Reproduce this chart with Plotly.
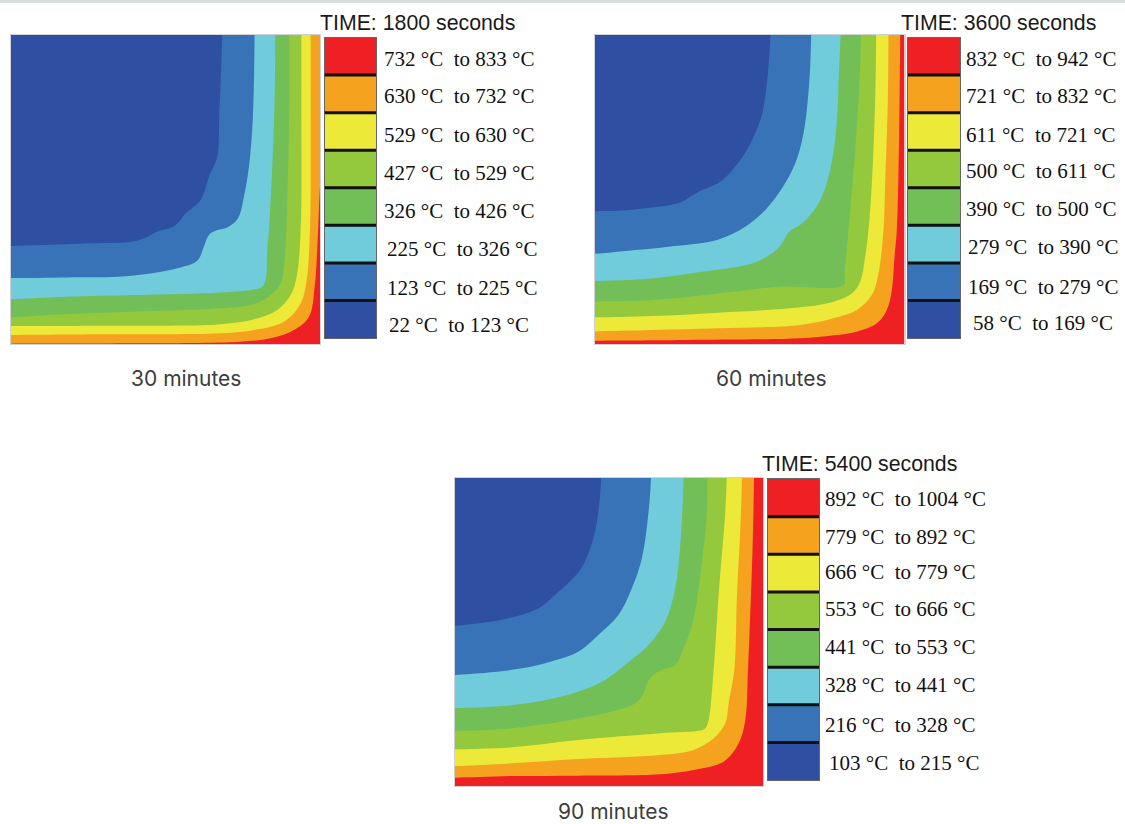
import plotly.graph_objects as go

W, H = 1125, 824
COLORS = ["#EE2024", "#F5A31E", "#ECE938", "#94C83D", "#72BF58", "#70CCDB", "#3873B8", "#2E4FA2"]

# ---- data: isotherm boundaries, outermost (hot) to innermost (cold)
P1_RED_ORANGE = [(32,1031),(400,1030),(720,1025),(810,1015),(880,990),(925,950),(942,860),(950,740),(955,620),(960,500)]
P1_ORANGE_YELLOW = [(32,1005),(300,1003),(660,1000),(760,990),(850,965),(900,910),(918,840),(928,690),(930,400),(930,104)]
P1_YELLOW_LIME = [(32,978),(300,977),(660,973),(760,958),(830,930),(870,885),(888,830),(900,690),(902,300),(902,104)]
P1_LIME_GREEN = [(32,952),(200,942),(400,935),(660,925),(760,912),(810,885),(840,850),(850,800),(857,690),(866,300),(866,104)]
P1_GREEN_CYAN = [(32,897),(200,890),(400,885),(660,877),(760,868),(785,860),(795,840),(800,750),(805,690),(815,500),(822,300),(824,104)]
P1_CYAN_BLUE = [(32,834),(200,832),(350,830),(450,820),(540,802),(590,782),(610,740),(625,705),(650,690),(680,682),(712,655),(730,590),(745,500),(757,350),(762,104)]
P1_BLUE_NAVY = [(32,738),(120,735),(250,730),(410,722),(470,695),(525,675),(555,640),(600,600),(625,530),(650,470),(656,350),(665,104)]

P2_RED_ORANGE = [(28,1022),(300,1020),(645,1015),(745,1006),(815,995),(875,970),(905,930),(920,870),(928,770),(935,690),(942,400),(945,104)]
P2_ORANGE_YELLOW = [(28,994),(200,990),(400,985),(645,975),(745,955),(815,930),(860,885),(880,820),(895,690),(900,550),(908,300),(910,104)]
P2_YELLOW_LIME = [(28,952),(200,948),(400,938),(645,922),(745,905),(800,880),(825,845),(840,770),(850,690),(860,550),(870,300),(873,104)]
P2_LIME_GREEN = [(28,905),(200,900),(400,880),(580,860),(775,855),(778,820),(790,690),(810,450),(825,200),(827,104)]
P2_GREEN_CYAN = [(28,843),(200,835),(350,815),(500,790),(560,760),(590,730),(612,695),(650,670),(700,610),(730,530),(752,400),(762,200),(766,104)]
P2_CYAN_BLUE = [(28,761),(130,752),(250,740),(400,718),(480,680),(540,630),(590,565),(630,490),(655,400),(672,250),(678,104)]
P2_BLUE_NAVY = [(28,633),(120,630),(200,622),(285,607),(340,575),(405,545),(465,480),(505,410),(530,345),(545,250),(556,104)]

P3_RED_ORANGE = [(28,998),(200,993),(400,992),(645,988),(745,975),(835,950),(880,895),(900,825),(908,675),(915,500),(922,300),(926,100)]
P3_ORANGE_YELLOW = [(28,963),(200,955),(400,942),(645,930),(745,915),(805,880),(840,835),(850,775),(867,675),(875,450),(885,250),(890,100)]
P3_YELLOW_LIME = [(28,913),(200,907),(400,885),(645,865),(765,857),(780,850),(790,825),(805,675),(820,450),(840,200),(844,100)]
P3_LIME_GREEN = [(28,858),(200,850),(350,830),(500,800),(570,775),(595,745),(610,705),(640,680),(690,660),(715,610),(745,520),(770,350),(785,200),(787,100)]
P3_GREEN_CYAN = [(28,790),(150,785),(280,770),(400,740),(480,705),(540,660),(610,600),(660,530),(690,430),(705,300),(715,100)]
P3_CYAN_BLUE = [(28,690),(130,683),(220,672),(300,655),(400,620),(460,570),(520,510),(560,430),(590,340),(610,200),(617,100)]
P3_BLUE_NAVY = [(28,543),(100,535),(170,525),(280,490),(330,450),(405,375),(435,310),(455,230),(468,100)]

LABELS_1 = ["732 °C\u00a0 to 833 °C","630 °C\u00a0 to 732 °C","529 °C\u00a0 to 630 °C","427 °C\u00a0 to 529 °C",
            "326 °C\u00a0 to 426 °C","225 °C\u00a0 to 326 °C","123 °C\u00a0 to 225 °C","22 °C\u00a0 to 123 °C"]
LABELS_2 = ["832 °C\u00a0 to 942 °C","721 °C\u00a0 to 832 °C","611 °C\u00a0 to 721 °C","500 °C\u00a0 to 611 °C",
            "390 °C\u00a0 to 500 °C","279 °C\u00a0 to 390 °C","169 °C\u00a0 to 279 °C","58 °C\u00a0 to 169 °C"]
LABELS_3 = ["892 °C\u00a0 to 1004 °C","779 °C\u00a0 to 892 °C","666 °C\u00a0 to 779 °C","553 °C\u00a0 to 666 °C",
            "441 °C\u00a0 to 553 °C","328 °C\u00a0 to 441 °C","216 °C\u00a0 to 328 °C","103 °C\u00a0 to 215 °C"]
TITLES = ["TIME: 1800 seconds", "TIME: 3600 seconds", "TIME: 5400 seconds"]
CAPTIONS = ["30 minutes", "60 minutes", "90 minutes"]

# ---- layout (pixels)
panels = [
    dict(box=(11, 35, 320, 344), rx=(32, 958), ry=(1032, 104),
         curves=[P1_RED_ORANGE,P1_ORANGE_YELLOW,P1_YELLOW_LIME,P1_LIME_GREEN,P1_GREEN_CYAN,P1_CYAN_BLUE,P1_BLUE_NAVY],
         bar=(324.5, 37.5, 376, 338), labels=LABELS_1,
         lx=[384,384,384,384,384,387,387,389], ly=[59,96,135,173,211,249,288,325],
         title=(320, 23), cap=(186, 378)),
    dict(box=(594.5, 35, 904.5, 344), rx=(28, 958), ry=(1032, 104),
         curves=[P2_RED_ORANGE,P2_ORANGE_YELLOW,P2_YELLOW_LIME,P2_LIME_GREEN,P2_GREEN_CYAN,P2_CYAN_BLUE,P2_BLUE_NAVY],
         bar=(908, 37.5, 960, 338), labels=LABELS_2,
         lx=[966,966,966,966,966,968,968,973], ly=[59,96,135,171,209,247,287,323],
         title=(901, 23), cap=(771, 378)),
    dict(box=(454.5, 478, 763, 786), rx=(28, 953), ry=(1023, 100),
         curves=[P3_RED_ORANGE,P3_ORANGE_YELLOW,P3_YELLOW_LIME,P3_LIME_GREEN,P3_GREEN_CYAN,P3_CYAN_BLUE,P3_BLUE_NAVY],
         bar=(767.5, 479, 819, 780), labels=LABELS_3,
         lx=[825,825,825,825,825,825,825,829], ly=[499,537,572,609,647,685,725,763],
         title=(762, 464), cap=(613, 811)),
]

fig = go.Figure()
layout = dict(width=W, height=H, margin=dict(l=0, r=0, t=0, b=0), autosize=False,
              paper_bgcolor="white", plot_bgcolor="white", showlegend=False)
annotations, shapes = [], []
shapes.append(dict(type="rect", xref="paper", yref="paper", x0=0, x1=1, y0=1 - 3 / H, y1=1,
                   fillcolor="#D6DFDD", line_width=0, layer="above"))


def text(x, y, s, font, size, color, anchor="left"):
    annotations.append(dict(x=x / W, y=1 - y / H, xref="paper", yref="paper", text=s, showarrow=False,
                            xanchor=anchor, yanchor="middle", borderpad=0, borderwidth=0,
                            font=dict(family=font, size=size, color=color)))


def axis(a, b, rng, anchor, color, span):
    return dict(domain=[a / span, b / span], range=list(rng), anchor=anchor, visible=True,
                showticklabels=False, ticks="", showgrid=False, zeroline=False,
                showline=True, mirror=True, linecolor=color, linewidth=1, fixedrange=True)


for i, p in enumerate(panels):
    xa = 2 * i + 1
    x0, y0, x1, y1 = p["box"]
    xn, yn = f"x{xa}", f"y{xa}"
    layout[f"xaxis{xa}"] = axis(x0, x1, p["rx"], yn, "#D0D0D6", W)
    layout[f"yaxis{xa}"] = axis(H - y1, H - y0, p["ry"], xn, "#D0D0D6", H)
    # hot background, then each colder region stacked on top
    fig.add_trace(go.Scatter(x=[p["rx"][0], p["rx"][1], p["rx"][1], p["rx"][0]],
                             y=[p["ry"][0], p["ry"][0], p["ry"][1], p["ry"][1]],
                             mode="lines", fill="toself", fillcolor=COLORS[0], line=dict(width=0),
                             hoverinfo="skip", xaxis=xn, yaxis=yn))
    for c, curve in enumerate(p["curves"]):
        xs = [q[0] for q in curve]
        ys = [q[1] for q in curve]
        out_x = p["rx"][0] - 60
        out_y = p["ry"][1] - 60
        px = [out_x] + xs + [xs[-1], out_x]
        py = [ys[0]] + ys + [out_y, out_y]
        fig.add_trace(go.Scatter(x=px, y=py, mode="lines", fill="toself", fillcolor=COLORS[c + 1],
                                 line=dict(width=0, shape="spline", smoothing=1.0),
                                 hoverinfo="skip", xaxis=xn, yaxis=yn))
    # colour key
    xk, yk = f"x{xa + 1}", f"y{xa + 1}"
    bx0, by0, bx1, by1 = p["bar"]
    layout[f"xaxis{xa + 1}"] = axis(bx0, bx1, (0, 1), yk, "#666666", W)
    layout[f"yaxis{xa + 1}"] = axis(H - by1, H - by0, (7.5, -0.5), xk, "#666666", H)
    fig.add_trace(go.Bar(x=[1] * 8, y=list(range(8)), orientation="h", width=1,
                         marker=dict(color=COLORS, line=dict(width=0)), hoverinfo="skip",
                         xaxis=xk, yaxis=yk))
    for j in range(7):
        shapes.append(dict(type="line", xref=xk, yref=yk, x0=0, x1=1, y0=j + 0.5, y1=j + 0.5,
                           line=dict(color="#111111", width=3), layer="above"))
    for lab, lx, ly in zip(p["labels"], p["lx"], p["ly"]):
        text(lx, ly, lab, "Liberation Serif", 21, "#111111")
    text(p["title"][0], p["title"][1], TITLES[i], "Liberation Sans", 21.3, "#1a1a1a")
    text(p["cap"][0], p["cap"][1], CAPTIONS[i], "Inter", 21, "#3c3c3c", "center")

layout["annotations"] = annotations
layout["shapes"] = shapes
fig.update_layout(**layout)
fig.write_html("out.html", config=dict(displayModeBar=False),
               post_script="document.body.style.margin='0';document.documentElement.style.overflow='hidden';")
